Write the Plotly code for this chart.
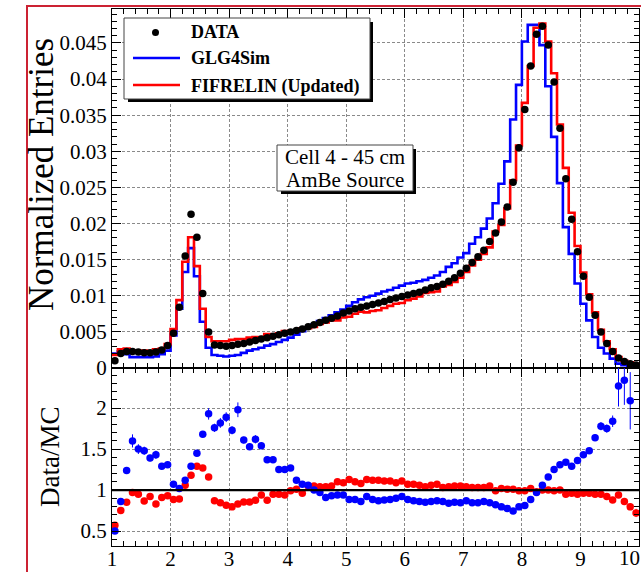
import numpy as np
import plotly.graph_objects as go

# ---------------- data (0.1 MeV bins from 1 to 10 MeV) ----------------
BIN_START = 1.0
BIN_WIDTH = 0.1

data_entries = [
    0.0010, 0.0020, 0.0023, 0.0023, 0.0022, 0.0021, 0.0021, 0.0022, 0.0025, 0.0031,
    0.0048, 0.0084, 0.0155, 0.0213, 0.0181, 0.0103, 0.0050, 0.0032, 0.0031, 0.0030,
    0.0031, 0.0033, 0.0034, 0.0036, 0.0038, 0.0040, 0.0042, 0.0044, 0.0046, 0.0048,
    0.0050, 0.0052, 0.0054, 0.0057, 0.0060, 0.0063, 0.0066, 0.0069, 0.0072, 0.0076,
    0.0079, 0.0082, 0.0084, 0.0086, 0.0088, 0.0090, 0.0092, 0.0095, 0.0097, 0.0099,
    0.0101, 0.0103, 0.0105, 0.0108, 0.0111, 0.0113, 0.0116, 0.0120, 0.0125, 0.0131,
    0.0138, 0.0146, 0.0154, 0.0163, 0.0175, 0.0187, 0.0202, 0.0223, 0.0257, 0.0305,
    0.0358, 0.0418, 0.0462, 0.0473, 0.0447, 0.0396, 0.0332, 0.0262, 0.0206, 0.0161,
    0.0127, 0.0098, 0.0073, 0.0050, 0.0034, 0.0023, 0.0014, 0.0009, 0.0006, 0.0004,
]

glg4sim_entries = [
    0.0020, 0.0023, 0.0019, 0.0015, 0.0015, 0.0015, 0.0015, 0.0016, 0.0019, 0.0024,
    0.0045, 0.0082, 0.0133, 0.0166, 0.0127, 0.0064, 0.0028, 0.0018, 0.0017, 0.0016,
    0.0017, 0.0018, 0.0021, 0.0024, 0.0026, 0.0028, 0.0031, 0.0033, 0.0036, 0.0039,
    0.0042, 0.0046, 0.0051, 0.0056, 0.0060, 0.0065, 0.0069, 0.0073, 0.0077, 0.0081,
    0.0086, 0.0091, 0.0095, 0.0098, 0.0100, 0.0103, 0.0106, 0.0108, 0.0111, 0.0114,
    0.0117, 0.0118, 0.0120, 0.0122, 0.0125, 0.0128, 0.0133, 0.0140, 0.0145, 0.0153,
    0.0159, 0.0172, 0.0181, 0.0193, 0.0207, 0.0228, 0.0255, 0.0286, 0.0344, 0.0392,
    0.0452, 0.0475, 0.0475, 0.0447, 0.0390, 0.0320, 0.0256, 0.0195, 0.0158, 0.0117,
    0.0089, 0.0066, 0.0043, 0.0028, 0.0020, 0.0013, 0.0006, 0.0004, 0.0003, 0.0002,
]

fifrelin_entries = [
    0.0018, 0.0026, 0.0027, 0.0024, 0.0023, 0.0024, 0.0023, 0.0026, 0.0027, 0.0033,
    0.0054, 0.0094, 0.0147, 0.0181, 0.0141, 0.0082, 0.0043, 0.0037, 0.0037, 0.0037,
    0.0039, 0.0040, 0.0040, 0.0042, 0.0043, 0.0043, 0.0047, 0.0046, 0.0048, 0.0051,
    0.0051, 0.0052, 0.0055, 0.0055, 0.0057, 0.0061, 0.0063, 0.0066, 0.0066, 0.0070,
    0.0071, 0.0075, 0.0078, 0.0077, 0.0079, 0.0080, 0.0083, 0.0086, 0.0089, 0.0090,
    0.0094, 0.0096, 0.0099, 0.0104, 0.0105, 0.0106, 0.0113, 0.0115, 0.0119, 0.0125,
    0.0133, 0.0142, 0.0150, 0.0158, 0.0167, 0.0189, 0.0198, 0.0221, 0.0260, 0.0308,
    0.0367, 0.0418, 0.0471, 0.0477, 0.0452, 0.0408, 0.0337, 0.0277, 0.0215, 0.0169,
    0.0132, 0.0102, 0.0077, 0.0053, 0.0037, 0.0026, 0.0015, 0.0010, 0.0008, 0.0006,
]

ratio_glg4sim = [
    0.50, 0.86, 1.24, 1.60, 1.50, 1.48, 1.39, 1.43, 1.29, 1.31,
    1.07, 1.02, 1.12, 1.29, 1.45, 1.68, 1.93, 1.76, 1.82, 1.89,
    1.73, 1.98, 1.61, 1.53, 1.62, 1.54, 1.37, 1.37, 1.25, 1.25,
    1.27, 1.12, 1.07, 1.06, 1.00, 0.97, 0.91, 0.93, 0.94, 0.94,
    0.885, 0.885, 0.86, 0.92, 0.885, 0.87, 0.88, 0.885, 0.90, 0.92,
    0.885, 0.87, 0.86, 0.85, 0.86, 0.87, 0.86, 0.84, 0.85, 0.845,
    0.87, 0.845, 0.845, 0.86, 0.845, 0.82, 0.795, 0.775, 0.745, 0.795,
    0.81, 0.885, 0.97, 1.06, 1.16, 1.25, 1.31, 1.34, 1.29, 1.36,
    1.43, 1.48, 1.64, 1.78, 1.75, 1.84, 2.27, 2.34, 2.09, None,
]
ratio_glg4sim_err = [
    0.03, 0.03, 0.04, 0.08, 0.06, 0.05, 0.04, 0.05, 0.04, 0.04,
    0.03, 0.02, 0.02, 0.02, 0.02, 0.03, 0.07, 0.05, 0.06, 0.06,
    0.05, 0.09, 0.04, 0.04, 0.05, 0.04, 0.03, 0.03, 0.03, 0.03,
    0.03, 0.02, 0.02, 0.02, 0.02, 0.02, 0.02, 0.02, 0.02, 0.02,
    0.02, 0.02, 0.02, 0.02, 0.02, 0.02, 0.02, 0.02, 0.02, 0.02,
    0.02, 0.02, 0.02, 0.02, 0.02, 0.02, 0.02, 0.02, 0.02, 0.02,
    0.02, 0.02, 0.02, 0.02, 0.02, 0.02, 0.02, 0.02, 0.02, 0.02,
    0.02, 0.02, 0.02, 0.02, 0.02, 0.02, 0.02, 0.02, 0.02, 0.03,
    0.03, 0.03, 0.04, 0.05, 0.05, 0.07, 0.25, 0.30, 0.35, 0.0,
]
ratio_fifrelin = [
    0.57, 0.75, 0.85, 0.97, 0.95, 0.865, 0.92, 0.83, 0.91, 0.93,
    0.885, 0.89, 1.06, 1.18, 1.29, 1.27, 1.16, 0.87, 0.845, 0.815,
    0.795, 0.83, 0.855, 0.855, 0.875, 0.94, 0.875, 0.95, 0.95, 0.94,
    0.99, 1.01, 0.96, 1.05, 1.05, 1.04, 1.04, 1.05, 1.10, 1.09,
    1.13, 1.10, 1.08, 1.13, 1.12, 1.12, 1.11, 1.11, 1.09, 1.11,
    1.07, 1.07, 1.06, 1.04, 1.06, 1.07, 1.03, 1.04, 1.05, 1.05,
    1.04, 1.03, 1.03, 1.03, 1.05, 0.99, 1.02, 1.01, 1.01, 0.99,
    0.99, 1.02, 0.98, 1.00, 1.00, 0.99, 1.00, 0.95, 0.96, 0.95,
    0.96, 0.96, 0.95, 0.95, 0.92, 0.88, 0.94, 0.86, 0.795, 0.72,
]
ratio_fifrelin_err = [0.03] + [0.02] * 87 + [0.04, 0.05]

top_ticks = [0, 0.005, 0.01, 0.015, 0.02, 0.025, 0.03, 0.035, 0.04, 0.045]
top_tick_text = ["0", "0.005", "0.01", "0.015", "0.02", "0.025", "0.03", "0.035", "0.04", "0.045"]
bottom_ticks = [0.5, 1, 1.5, 2]
bottom_tick_text = ["0.5", "1", "1.5", "2"]
x_ticks = [1, 2, 3, 4, 5, 6, 7, 8, 9, 10]
x_tick_text = ["1", "2", "3", "4", "5", "6", "7", "8", "9", "10"]

legend_labels = ["DATA", "GLG4Sim", "FIFRELIN (Updated)"]
info_lines = ["Cell 4 - 45 cm", "AmBe Source"]

# ---------------- derived positions ----------------
n = len(data_entries)
centers = BIN_START + BIN_WIDTH * (np.arange(n) + 0.5)
edges = BIN_START + BIN_WIDTH * np.arange(n + 1)

W, H = 641, 572
ML, MR, MT, MB = 112, 2, 9, 26
PW, PH = W - ML - MR, H - MT - MB
SPLIT_PX = 368  # pixel row of boundary between panels


def px2x(px):
    return (px - ML) / PW


def py2y(py):
    return (H - MB - py) / PH


split = py2y(SPLIT_PX)

SERIF = "Liberation Serif"
BLUE = "#0000ff"
RED = "#ff0000"

fig = go.Figure()


def step(vals):
    return list(edges), list(vals) + [vals[-1]]


sx, sy = step(glg4sim_entries)
fig.add_trace(go.Scatter(x=sx, y=sy, mode="lines", line=dict(color=BLUE, width=2.6, shape="hv"),
                         xaxis="x", yaxis="y", showlegend=False))
sx, sy = step(fifrelin_entries)
fig.add_trace(go.Scatter(x=sx, y=sy, mode="lines", line=dict(color=RED, width=2.6, shape="hv"),
                         xaxis="x", yaxis="y", showlegend=False))
fig.add_trace(go.Scatter(x=centers, y=data_entries, mode="markers",
                         marker=dict(color="black", size=7.5),
                         xaxis="x", yaxis="y", showlegend=False))

# ratio panel
fig.add_trace(go.Scatter(x=centers, y=ratio_fifrelin, mode="markers",
                         marker=dict(color=RED, size=7.5),
                         error_y=dict(type="data", array=ratio_fifrelin_err, color=RED, thickness=1, width=0),
                         xaxis="x2", yaxis="y2", showlegend=False))
fig.add_trace(go.Scatter(x=centers, y=ratio_glg4sim, mode="markers",
                         marker=dict(color=BLUE, size=7.5),
                         error_y=dict(type="data", array=ratio_glg4sim_err, color=BLUE, thickness=1, width=0),
                         xaxis="x2", yaxis="y2", showlegend=False))

tickfont = dict(family=SERIF, size=21, color="black")
grid = dict(showgrid=True, gridcolor="#8a8a8a", gridwidth=1, griddash="3px,2px")
common = dict(showline=True, linecolor="black", linewidth=1, mirror="allticks",
              ticks="inside", ticklen=9, tickcolor="black", tickwidth=1, automargin=False,
              zeroline=False, tickfont=tickfont, **grid)

fig.update_layout(
    width=W, height=H, autosize=False,
    margin=dict(l=ML, r=MR, t=MT, b=MB),
    paper_bgcolor="white", plot_bgcolor="white",
    xaxis=dict(domain=[0, 1], range=[1, 10], anchor="y", tickvals=x_ticks, showticklabels=False,
               minor=dict(dtick=0.2, ticklen=5, ticks="inside", tickcolor="black", showgrid=False),
               **common),
    yaxis=dict(domain=[split, 1], range=[0, 0.0497], anchor="x", tickvals=top_ticks, ticktext=top_tick_text,
               minor=dict(dtick=0.001, ticklen=5, ticks="inside", tickcolor="black", showgrid=False),
               **common),
    xaxis2=dict(domain=[0, 1], range=[1, 10], anchor="y2", tickvals=x_ticks[:-1], ticktext=x_tick_text[:-1],
                ticklabelstandoff=-6,
                minor=dict(dtick=0.2, ticklen=5, ticks="inside", tickcolor="black", showgrid=False),
                **common),
    yaxis2=dict(domain=[0, split], range=[0.317, 2.49], anchor="x2", tickvals=bottom_ticks,
                ticktext=bottom_tick_text,
                minor=dict(dtick=0.1, ticklen=5, ticks="inside", tickcolor="black", showgrid=False),
                **common),
)

shapes = []
# ratio = 1 reference line
shapes.append(dict(type="line", xref="x2", yref="y2", x0=1, x1=10, y0=1, y1=1,
                   line=dict(color="black", width=2.2)))
# outer red frame
shapes.append(dict(type="rect", xref="paper", yref="paper", x0=px2x(27), x1=px2x(700),
                   y0=py2y(650), y1=py2y(6), line=dict(color="#cc2233", width=2), layer="above"))


def box(x0, y0, x1, y1):
    # shadow then white box
    shapes.append(dict(type="rect", xref="paper", yref="paper", x0=px2x(x0 + 4), x1=px2x(x1 + 3),
                       y0=py2y(y1 + 3), y1=py2y(y0 + 4), fillcolor="black", line=dict(width=0)))
    shapes.append(dict(type="rect", xref="paper", yref="paper", x0=px2x(x0), x1=px2x(x1),
                       y0=py2y(y1), y1=py2y(y0), fillcolor="white", line=dict(color="#444", width=1)))


box(124, 18, 370, 99)
box(277, 145, 413, 191)

# legend symbols
shapes.append(dict(type="circle", xref="paper", yref="paper", x0=px2x(152), x1=px2x(159),
                   y0=py2y(36), y1=py2y(29), fillcolor="black", line=dict(width=0)))
shapes.append(dict(type="line", xref="paper", yref="paper", x0=px2x(133), x1=px2x(180),
                   y0=py2y(58), y1=py2y(58), line=dict(color=BLUE, width=2.6)))
shapes.append(dict(type="line", xref="paper", yref="paper", x0=px2x(133), x1=px2x(180),
                   y0=py2y(85), y1=py2y(85), line=dict(color=RED, width=2.6)))

annotations = []
for label, py in zip(legend_labels, [32, 58, 86]):
    annotations.append(dict(text="<b>%s</b>" % label, xref="paper", yref="paper", x=px2x(189), y=py2y(py),
                            xanchor="left", yanchor="middle", showarrow=False,
                            font=dict(family=SERIF, size=18, color="black")))
for line, py in zip(info_lines, [157, 180]):
    annotations.append(dict(text=line, xref="paper", yref="paper", x=px2x(345), y=py2y(py),
                            xanchor="center", yanchor="middle", showarrow=False,
                            font=dict(family=SERIF, size=21, color="black")))
annotations.append(dict(text="Normalized Entries", xref="paper", yref="paper", x=px2x(41), y=py2y(175),
                        xanchor="center", yanchor="middle", textangle=-90, showarrow=False,
                        font=dict(family=SERIF, size=35, color="black")))
annotations.append(dict(text="Data/MC", xref="paper", yref="paper", x=px2x(50), y=py2y(457),
                        xanchor="center", yanchor="middle", textangle=-90, showarrow=False,
                        font=dict(family=SERIF, size=27, color="black")))
# last x tick label, kept inside the page at its right edge
annotations.append(dict(text=x_tick_text[-1], xref="paper", yref="paper", x=px2x(641), y=py2y(558),
                        xanchor="right", yanchor="middle", showarrow=False, borderpad=0,
                        font=dict(family=SERIF, size=21, color="black")))

fig.update_layout(shapes=shapes, annotations=annotations)
fig.write_html("out.html")
